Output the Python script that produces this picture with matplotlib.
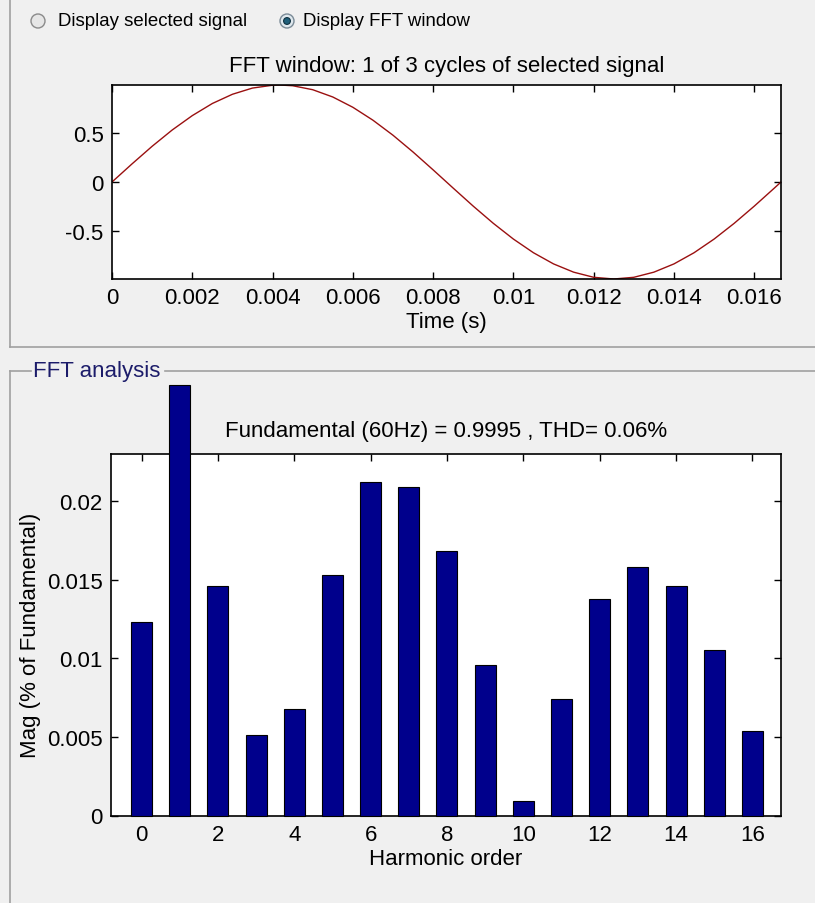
# FFT window + harmonic spectrum (MATLAB powergui style)
import matplotlib
matplotlib.use("Agg")
import matplotlib.pyplot as plt
from matplotlib.patches import Circle

plt.rcParams["font.family"] = ["Liberation Sans", "DejaVu Sans"]

# ---- data ----
# time samples (s) and signal values read from the FFT window
time_s = [0.0, 0.0005, 0.001, 0.0015, 0.002, 0.0025, 0.003, 0.0035, 0.004,
          0.00417, 0.0045, 0.005, 0.0055, 0.006, 0.0065, 0.007, 0.0075, 0.008,
          0.0085, 0.009, 0.0095, 0.01, 0.0105, 0.011, 0.0115, 0.012, 0.0125,
          0.013, 0.0135, 0.014, 0.0145, 0.015, 0.0155, 0.016, 0.0165, 0.016667]
signal = [0.0, 0.187, 0.368, 0.536, 0.684, 0.809, 0.904, 0.968, 0.997,
          0.9995, 0.992, 0.951, 0.876, 0.770, 0.637, 0.482, 0.309, 0.125,
          -0.063, -0.249, -0.426, -0.588, -0.729, -0.844, -0.929, -0.982, -0.9995,
          -0.982, -0.929, -0.844, -0.729, -0.588, -0.426, -0.249, -0.063, 0.0]

time_ticks = [0, 0.002, 0.004, 0.006, 0.008, 0.01, 0.012, 0.014, 0.016]
time_tick_labels = ["0", "0.002", "0.004", "0.006", "0.008", "0.01", "0.012", "0.014", "0.016"]
sig_ticks = [-0.5, 0, 0.5]
sig_tick_labels = ["-0.5", "0", "0.5"]

# harmonic magnitudes (% of fundamental)
harmonic = list(range(17))
magnitude = [0.0123, 0.0274, 0.0146, 0.0051, 0.0068, 0.0153, 0.0212, 0.0209,
             0.0168, 0.0096, 0.0009, 0.0074, 0.0138, 0.0158, 0.0146, 0.0105, 0.0054]
harm_ticks = [0, 2, 4, 6, 8, 10, 12, 14, 16]
mag_ticks = [0, 0.005, 0.01, 0.015, 0.02]
mag_tick_labels = ["0", "0.005", "0.01", "0.015", "0.02"]

W, H = 815, 904
bg = "#f0f0f0"
fs = 16
fig = plt.figure(figsize=(W / 100, H / 100), dpi=100, facecolor=bg)


def rect(left, top, right, bottom):
    return [left / W, 1 - bottom / H, (right - left) / W, (bottom - top) / H]


# ---- decoration layer in pixel coords ----
deco = fig.add_axes([0, 0, 1, 1], zorder=-1)
deco.set_xlim(0, W)
deco.set_ylim(H, 0)
deco.axis("off")
frame = "#a0a0a0"
deco.plot([10, 10], [0, 348], color=frame, lw=1.2)
deco.plot([10, W], [348, 348], color=frame, lw=1.2)
deco.plot([10, 10], [372, H], color=frame, lw=1.2)
deco.plot([10, 31], [372, 372], color=frame, lw=1.2)
deco.plot([165, W], [372, 372], color=frame, lw=1.2)
deco.text(33, 372, "FFT analysis", color="#1c1c6a", fontsize=fs, va="center", ha="left")

# radio buttons
deco.add_patch(Circle((38, 22), 7, facecolor="#e6e6e6", edgecolor="#8a8a8a", lw=1))
deco.add_patch(Circle((287, 22), 7, facecolor="#dfe8ee", edgecolor="#7a8a96", lw=1))
deco.add_patch(Circle((287, 22), 3.4, facecolor="#1f5f7a", edgecolor="#0f3040", lw=0.8))
deco.text(58, 22, "Display selected signal", fontsize=13.4, va="center", ha="left")
deco.text(303, 22, "Display FFT window", fontsize=13.4, va="center", ha="left")

# ---- top: FFT window signal ----
ax1 = fig.add_axes(rect(112, 86, 781, 280))
ax1.plot(time_s, signal, color="#9a1010", lw=1)
ax1.set_xlim(0, 1 / 60)
ax1.set_ylim(-0.9995, 0.9995)
ax1.set_xticks(time_ticks)
ax1.set_xticklabels(time_tick_labels)
ax1.set_yticks(sig_ticks)
ax1.set_yticklabels(sig_tick_labels)
ax1.set_title("FFT window: 1 of 3 cycles of selected signal", fontsize=fs, pad=10)
ax1.set_xlabel("Time (s)", fontsize=fs, labelpad=2)

# ---- bottom: harmonic spectrum ----
ax2 = fig.add_axes(rect(111, 455, 781, 816.5))
ax2.bar(harmonic, magnitude, width=0.55, color="#00008c", edgecolor="black",
        lw=0.8, clip_on=False, zorder=3)
ax2.set_xlim(-0.8, 16.75)
ax2.set_ylim(0, 0.0230)
ax2.set_xticks(harm_ticks)
ax2.set_yticks(mag_ticks)
ax2.set_yticklabels(mag_tick_labels)
ax2.set_title("Fundamental (60Hz) = 0.9995 , THD= 0.06%", fontsize=fs, pad=13)
ax2.set_xlabel("Harmonic order", fontsize=fs, labelpad=2)
ax2.set_ylabel("Mag (% of Fundamental)", fontsize=fs, labelpad=4)

for ax in (ax1, ax2):
    ax.set_facecolor("white")
    ax.tick_params(direction="in", top=True, right=True, labelsize=fs,
                   length=5, width=1, pad=6)
    for s in ax.spines.values():
        s.set_linewidth(1.2)

fig.savefig("out.png", dpi=100, facecolor=bg)
